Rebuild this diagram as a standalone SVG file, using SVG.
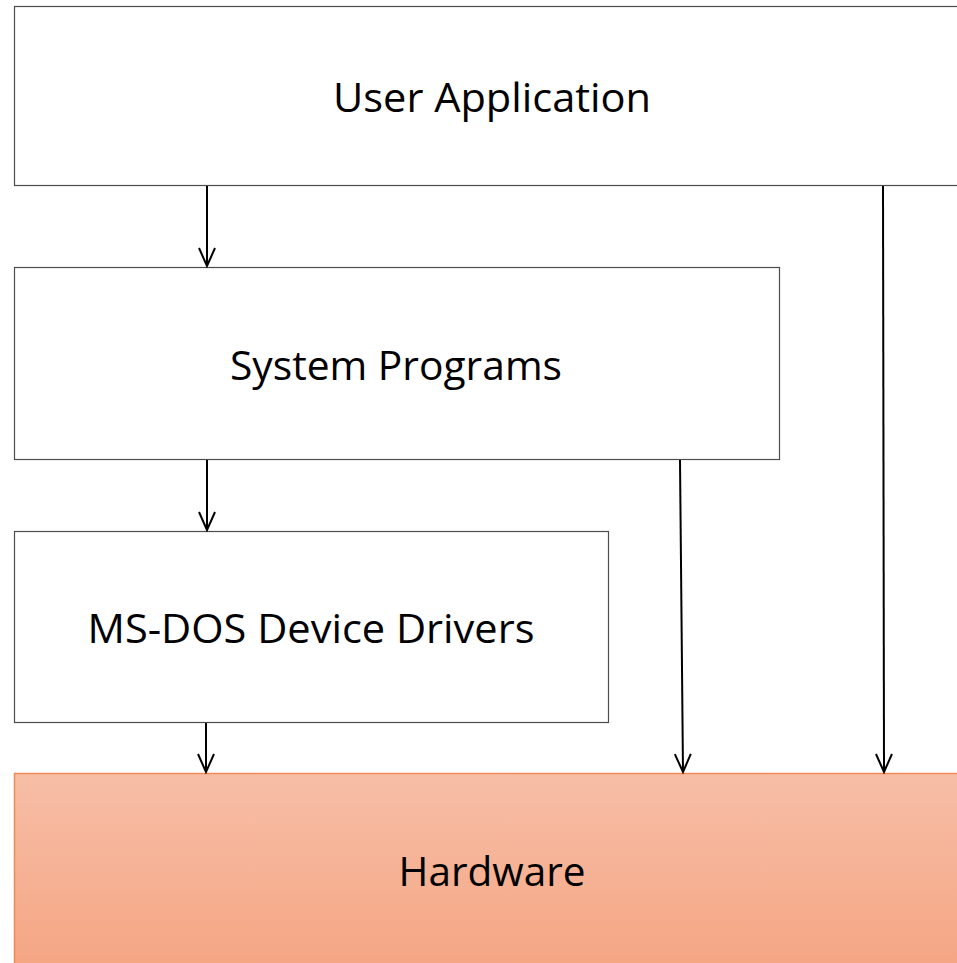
<svg xmlns="http://www.w3.org/2000/svg" width="957" height="963" viewBox="0 0 957 963">
<style>
.box{fill:#ffffff;stroke:#4d4d4d;stroke-width:1.2}
.lbl{font-family:"Open Sans","Noto Sans",sans-serif;font-size:41px;fill:#000;text-anchor:middle}
.conn{stroke:#000;stroke-width:2;fill:none;marker-end:url(#arr)}
</style>
<defs>
<linearGradient id="hw" x1="0" y1="0" x2="0" y2="1">
<stop offset="0" stop-color="#f7bea7"/>
<stop offset="1" stop-color="#f5a582"/>
</linearGradient>
<marker id="arr" markerWidth="22" markerHeight="22" refX="19" refY="11" orient="auto" markerUnits="userSpaceOnUse" viewBox="0 0 22 22">
<path d="M1,3 L19,11 L1,19" fill="none" stroke="#000" stroke-width="2"/>
</marker>
</defs>
<g id="user-application">
<rect class="box" x="14.5" y="6.5" width="960" height="179"/>
<text class="lbl" x="492" y="112" textLength="318" lengthAdjust="spacingAndGlyphs">User Application</text>
</g>
<g id="system-programs">
<rect class="box" x="14.5" y="267.5" width="765" height="192"/>
<text class="lbl" x="396" y="380" textLength="332" lengthAdjust="spacingAndGlyphs">System Programs</text>
</g>
<g id="ms-dos-device-drivers">
<rect class="box" x="14.5" y="531.5" width="594" height="191"/>
<text class="lbl" x="311" y="643" textLength="447" lengthAdjust="spacingAndGlyphs">MS-DOS Device Drivers</text>
</g>
<g id="hardware">
<rect x="14.5" y="773.5" width="960" height="200" fill="url(#hw)" stroke="#f08a55" stroke-width="1.5"/>
<text class="lbl" x="492" y="886" textLength="187" lengthAdjust="spacingAndGlyphs">Hardware</text>
</g>
<g id="connectors">
<line class="conn" x1="207" y1="186" x2="207" y2="266"/>
<line class="conn" x1="207" y1="460" x2="207" y2="530"/>
<line class="conn" x1="206" y1="723" x2="206" y2="772"/>
<line class="conn" x1="680" y1="460" x2="683" y2="772"/>
<line class="conn" x1="883" y1="186" x2="884" y2="772"/>
</g>
</svg>
